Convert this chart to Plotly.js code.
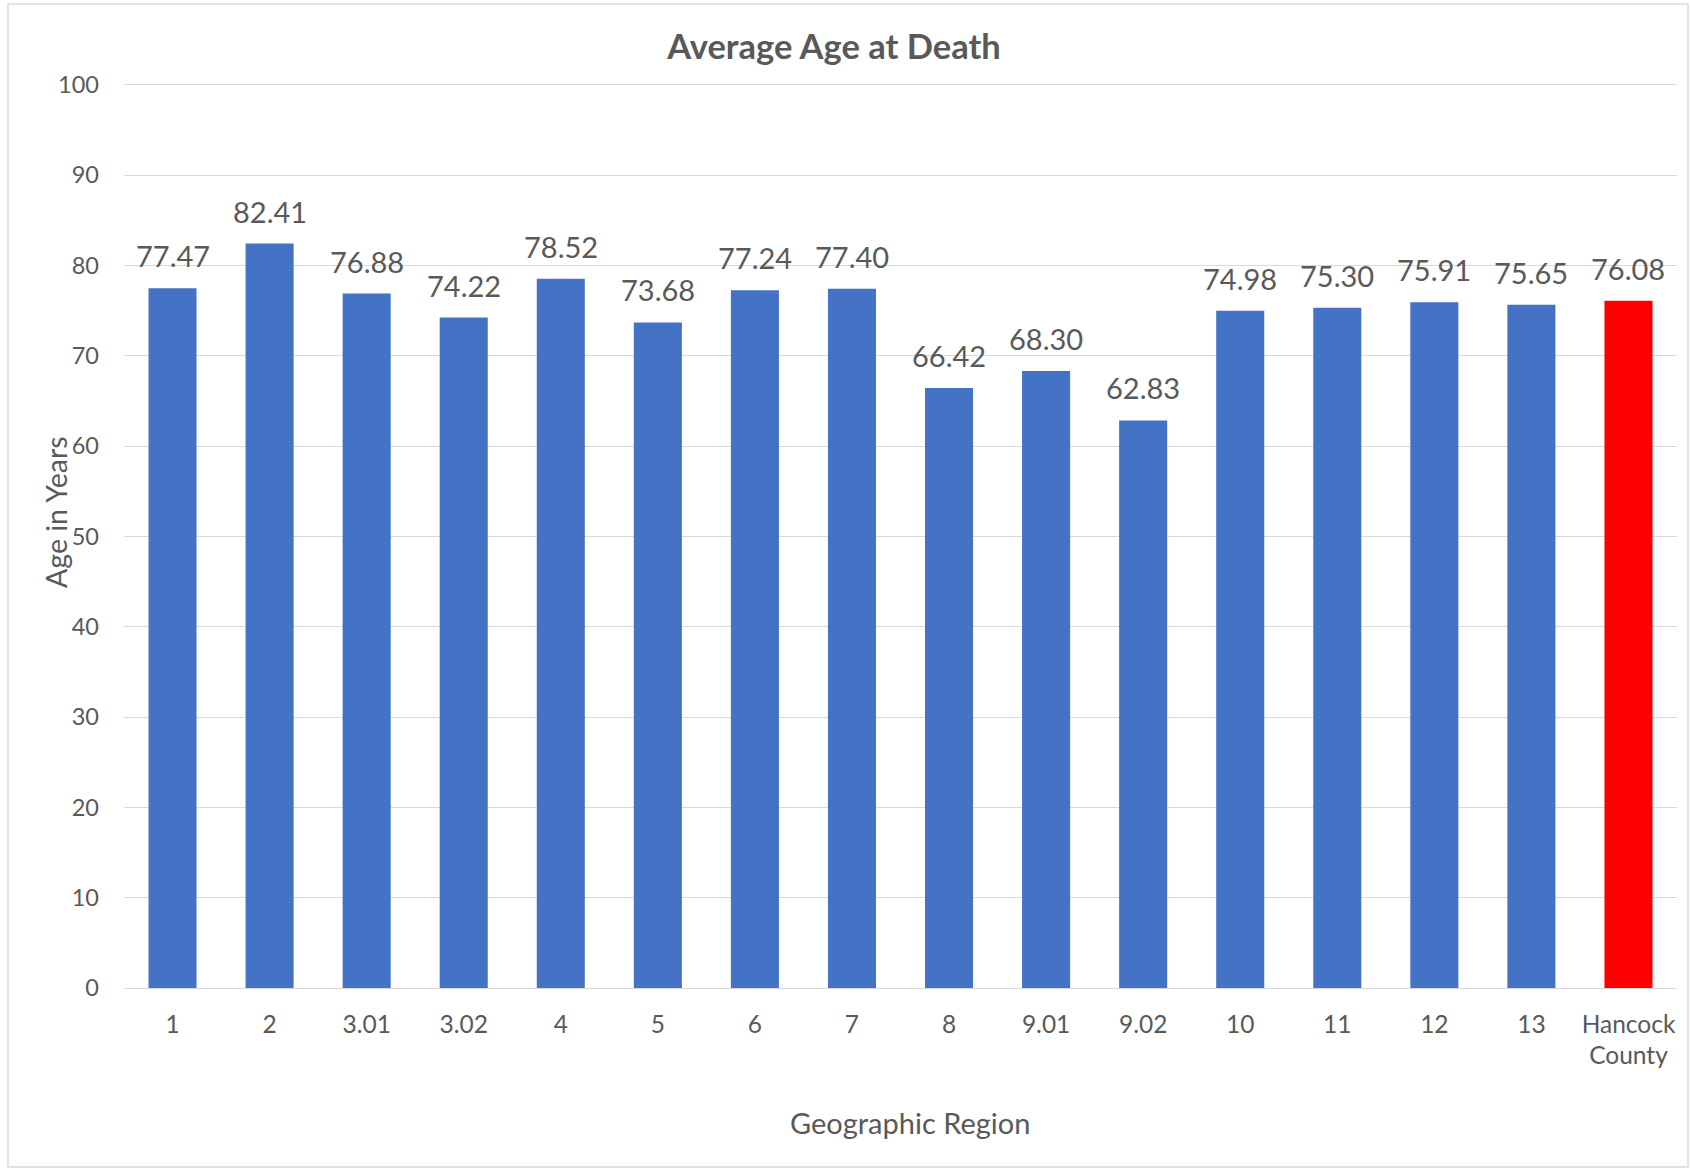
<!DOCTYPE html>
<html>
<head>
<meta charset="utf-8">
<script src="https://cdn.plot.ly/plotly-3.0.1.min.js"></script>
<style>
  html, body { margin: 0; padding: 0; background: #ffffff; }
  #chart { width: 1690px; height: 1170px; }
</style>
</head>
<body>
<div id="chart"></div>
<script>
// ---- Data ----
const categories = ['1', '2', '3.01', '3.02', '4', '5', '6', '7', '8', '9.01', '9.02', '10', '11', '12', '13', 'Hancock<br>County'];
const values = [77.47, 82.41, 76.88, 74.22, 78.52, 73.68, 77.24, 77.40, 66.42, 68.30, 62.83, 74.98, 75.30, 75.91, 75.65, 76.08];
const highlight = 'Hancock<br>County';
const chartTitle = 'Average Age at Death';
const xTitle = 'Geographic Region';
const yTitle = 'Age in Years';

// ---- Styling ----
const FONT = 'Lato, Carlito, Calibri, sans-serif';
const TEXT = '#595959';
const GRID = '#d9d9d9';
const BLUE = '#4472C4';
const RED = '#FF0000';

const W = 1690, H = 1170;
const L = 124, R = 1677, T = 82, B = 988;
const pw = R - L, ph = B - T;
const px2x = p => (p - L) / pw;
const py2y = p => (B - p) / ph;

const colors = categories.map(c => c === highlight ? RED : BLUE);

const trace = {
  type: 'bar',
  x: categories,
  y: values,
  marker: { color: colors, line: { width: 0 } },
  hoverinfo: 'x+y'
};

// category axis: annotation x given as category index
const labelAnnotations = categories.map((c, i) => ({
  x: i, y: values[i], xref: 'x', yref: 'y',
  text: values[i].toFixed(2),
  showarrow: false, yanchor: 'bottom', xanchor: 'center',
  yshift: 13,
  font: { family: FONT, size: 29, color: TEXT }
}));

const layout = {
  width: W, height: H,
  paper_bgcolor: '#ffffff', plot_bgcolor: '#ffffff',
  margin: { l: L, r: W - R, t: T, b: H - B, pad: 0 },
  showlegend: false,
  bargap: 0.505,
  font: { family: FONT, color: TEXT },
  title: {
    text: '<b>' + chartTitle + '</b>',
    font: { family: FONT, size: 34.5, color: TEXT },
    xref: 'container', yref: 'container',
    x: 834 / W, xanchor: 'center',
    y: 1 - 47 / H, yanchor: 'middle'
  },
  xaxis: {
    type: 'category',
    showgrid: false, zeroline: false,
    showline: false, ticks: '',
    ticklabelstandoff: 19,
    tickfont: { family: FONT, size: 24.5, color: TEXT },
    fixedrange: true
  },
  yaxis: {
    range: [0, 100.3], tickvals: [0, 10, 20, 30, 40, 50, 60, 70, 80, 90, 100],
    showgrid: true, gridcolor: GRID, gridwidth: 1,
    zeroline: true, zerolinecolor: GRID, zerolinewidth: 1,
    showline: false, ticks: '',
    ticklabelstandoff: 24,
    tickfont: { family: FONT, size: 23.5, color: TEXT },
    fixedrange: true
  },
  annotations: labelAnnotations.concat([
    {
      text: xTitle, showarrow: false,
      xref: 'paper', yref: 'paper',
      x: px2x(910), y: py2y(1122), xanchor: 'center', yanchor: 'middle',
      font: { family: FONT, size: 29, color: TEXT }
    },
    {
      text: yTitle, showarrow: false, textangle: -90,
      xref: 'paper', yref: 'paper',
      x: px2x(56), y: py2y(512), xanchor: 'center', yanchor: 'middle',
      font: { family: FONT, size: 28.5, color: TEXT }
    }
  ]),
  shapes: [{
    type: 'rect', xref: 'paper', yref: 'paper',
    x0: px2x(8), x1: px2x(1688), y0: py2y(1167), y1: py2y(4),
    line: { color: GRID, width: 1.5 }, fillcolor: 'rgba(0,0,0,0)', layer: 'below'
  }]
};

Plotly.newPlot('chart', [trace], layout, { displayModeBar: false, staticPlot: true });
</script>
</body>
</html>
